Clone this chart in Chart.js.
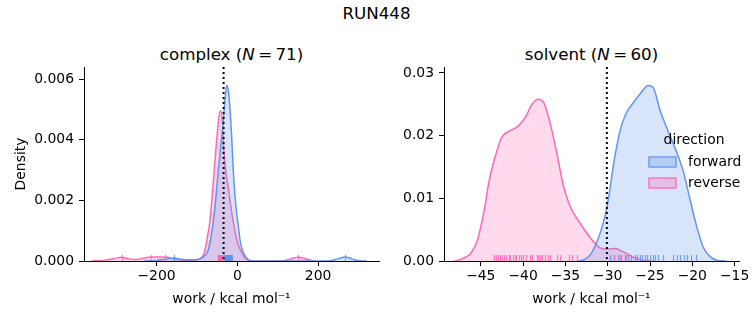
<!DOCTYPE html>
<html>
<head>
<meta charset="utf-8">
<script src="https://cdn.jsdelivr.net/npm/chart.js@4.4.0/dist/chart.umd.min.js"></script>
<style>
  body { margin: 0; background: #fff; }
  #wrap { position: relative; width: 753px; height: 325px; font-family: "DejaVu Sans", sans-serif; color: #000; }
  canvas { position: absolute; top: 0; }
  .ttl { position: absolute; text-align: center; font-size: 16.7px; line-height: 20px; white-space: nowrap; }
</style>
</head>
<body>
<div id="wrap">
  <div class="ttl" style="left:0; width:753px; top:3px;">RUN448</div>
  <div class="ttl" style="left:84px; width:295px; top:44px;">complex (<i>N</i>&#8201;=&#8201;71)</div>
  <div class="ttl" style="left:444px; width:295px; top:44px;">solvent (<i>N</i>&#8201;=&#8201;60)</div>
  <canvas id="complex" width="400" height="325" style="left:0"></canvas>
  <canvas id="solvent" width="353" height="325" style="left:400px"></canvas>
</div>
<script>
// Data

// complex panel, KDE curves
const cxForwardX = [-230, -200, -175, -157, -140, -120, -100, -88, -80, -72, -65, -59, -53, -47, -41, -35, -30, -26, -22, -18, -14, -10, -6, -1.6, 3, 6.7, 12, 19, 27, 40, 200, 230, 248, 258, 267, 276, 288, 303, 320];
const cxForwardY = [0, 0.00002, 0.00007, 0.0001, 0.00006, 0.00004, 0.00005, 0.0001, 0.00018, 0.00036, 0.0008, 0.00135, 0.0021, 0.003, 0.0038, 0.0046, 0.0054, 0.0058, 0.0056, 0.005, 0.0041, 0.003, 0.0022, 0.00157, 0.0011, 0.00069, 0.00038, 0.00018, 0.00005, 0, 0, 0.00001, 0.00007, 0.00011, 0.00013, 0.00011, 0.00005, 0.00001, 0];
const cxReverseX = [-360, -330, -305, -286, -268, -250, -230, -214, -195, -178, -160, -140, -120, -100, -90, -84, -80, -74, -67.5, -62, -57, -53, -49, -45, -41, -37, -34, -28, -22, -15, -10, -3, 3, 10, 17, 27, 40, 110, 125, 140, 151, 162, 177, 190];
const cxReverseY = [0, 0.00002, 0.00008, 0.00012, 0.00007, 0.00005, 0.0001, 0.00013, 0.00013, 0.00013, 0.00007, 0.00003, 0.00002, 0.00004, 0.0001, 0.0002, 0.00036, 0.0008, 0.00135, 0.0022, 0.003, 0.0037, 0.0043, 0.0048, 0.00496, 0.0046, 0.0038, 0.0029, 0.0024, 0.0017, 0.0013, 0.0008, 0.0005, 0.0003, 0.00012, 0.00003, 0, 0, 0.00004, 0.0001, 0.00012, 0.0001, 0.00004, 0];
const cxForwardRug = [-157, -32, -31, -30, -29.5, -29, -28, -27.5, -27, -26.5, -26, -25.5, -25, -24.5, -24, -23, -22.5, -22, -21, -20, -19, -18, -17, -16, -15, -14, 267];
const cxReverseRug = [-286, -214, -178, -48, -47, -46.5, -46, -45, -44.5, -44, -43.5, -43, -42.5, -42, -41.5, -41, -40, -39.5, -39, -38, -37, -36, -35, 151];
const cxVLine = -34;
const cxXTicks = [-200, 0, 200];
const cxYTicks = [0, 0.002, 0.004, 0.006];

// solvent panel, KDE curves
const svForwardX = [-33.5, -32.8, -32, -31.2, -30.5, -30.1, -29.7, -29.3, -28.9, -28.5, -27.8, -27.0, -26.2, -25.2, -24.6, -23.8, -22.8, -21.8, -21.1, -20.3, -19.5, -18.7, -17.9, -17, -16];
const svForwardY = [0, 0.0002, 0.0011, 0.0033, 0.0062, 0.0085, 0.0118, 0.0155, 0.0185, 0.021, 0.0236, 0.0252, 0.0266, 0.028, 0.0276, 0.024, 0.0205, 0.0172, 0.0145, 0.01, 0.0056, 0.0022, 0.0007, 0.0001, 0];
const svReverseX = [-48.2, -47.5, -46.8, -46.2, -45.4, -44.6, -44.0, -43.2, -42.5, -41.5, -40.7, -39.7, -38.9, -38.2, -37.5, -36.7, -36.0, -35.2, -34.4, -33.2, -32.0, -30.9, -30.0, -29.1, -28.2, -27.0, -25.8, -24.8];
const svReverseY = [0, 0.0002, 0.0006, 0.0012, 0.0033, 0.0081, 0.0129, 0.0171, 0.0198, 0.0208, 0.0214, 0.023, 0.0251, 0.0258, 0.0251, 0.0214, 0.0171, 0.0118, 0.0086, 0.0059, 0.0036, 0.0021, 0.0019, 0.002, 0.0015, 0.0006, 0.0001, 0];
const svForwardRug = [-29.7, -29.2, -28.8, -28.4, -28.0, -27.6, -27.2, -26.8, -26.5, -26.2, -25.9, -25.6, -25.3, -25.0, -24.7, -24.4, -24.0, -23.5, -22.3, -21.8, -21.4, -21.0, -20.6, -20.2, -19.6];
const svReverseRug = [-43.4, -43.2, -43.0, -42.7, -42.5, -42.2, -42.0, -41.7, -41.5, -41.2, -41.0, -40.8, -40.5, -40.2, -40.0, -39.6, -39.2, -38.9, -38.4, -38.2, -38.0, -37.8, -37.4, -37.0, -36.8, -36.0, -35.6, -34.6, -34.2, -33.6, -29.2, -28.5, -27.8];
const svVLine = -30.1;
const svXTicks = [-45, -40, -35, -30, -25, -20, -15];
const svYTicks = [0, 0.01, 0.02, 0.03];

const BLUE = '#6495ed';
const PINK = '#ff69b4';
const FONT = 'DejaVu Sans';

Chart.defaults.font.family = FONT;
Chart.defaults.font.size = 13.9;
Chart.defaults.color = '#000';

function toPoints(xs, ys) {
    return xs.map((x, i) => ({ x: x, y: ys[i] }));
}

function fmtMinus(v) {
    return v < 0 ? '\u2212' + Math.abs(v) : String(v);
}

// rug ticks, dotted reference line and the legend
const panelExtras = {
    id: 'panelExtras',
    afterDatasetsDraw(chart, args, opts) {
        const ctx = chart.ctx;
        const a = chart.chartArea;
        const x = chart.scales.x;
        ctx.save();
        opts.rugs.forEach(r => {
            ctx.strokeStyle = r.color;
            ctx.globalAlpha = 0.85;
            ctx.lineWidth = 1.2;
            r.values.forEach(v => {
                const px = Math.round(x.getPixelForValue(v)) + 0.5;
                ctx.beginPath();
                ctx.moveTo(px, a.bottom);
                ctx.lineTo(px, a.bottom - 6);
                ctx.stroke();
            });
        });
        ctx.globalAlpha = 1;

        const vx = x.getPixelForValue(opts.vline);
        ctx.strokeStyle = '#000';
        ctx.lineWidth = 2;
        ctx.setLineDash([2, 3]);
        ctx.beginPath();
        ctx.moveTo(vx, a.top);
        ctx.lineTo(vx, a.bottom);
        ctx.stroke();
        ctx.setLineDash([]);

        if (opts.legend) {
            ctx.font = '13.9px "' + FONT + '"';
            ctx.fillStyle = '#000';
            ctx.textBaseline = 'middle';
            ctx.textAlign = 'center';
            ctx.fillText('direction', a.right - 45, a.top + 73);
            const items = [
                { text: 'forward', color: BLUE, fill: 'rgba(100,149,237,0.3)' },
                { text: 'reverse', color: PINK, fill: 'rgba(255,105,180,0.3)' }
            ];
            items.forEach((it, i) => {
                const by = a.top + 90 + i * 21;
                ctx.fillStyle = it.fill;
                ctx.fillRect(a.right - 90, by, 27, 10);
                ctx.strokeStyle = it.color;
                ctx.lineWidth = 1.3;
                ctx.strokeRect(a.right - 90, by, 27, 10);
                ctx.fillStyle = '#000';
                ctx.textAlign = 'left';
                ctx.fillText(it.text, a.right - 51, by + 5);
            });
        }
        ctx.restore();
    }
};

function makePanel(id, cfg) {
    const ctx = document.getElementById(id).getContext('2d');
    return new Chart(ctx, {
        type: 'line',
        data: {
            datasets: [
                {
                    label: 'forward',
                    data: toPoints(cfg.fx, cfg.fy),
                    borderColor: BLUE,
                    backgroundColor: 'rgba(100,149,237,0.25)',
                    fill: 'origin',
                    borderWidth: 1.5,
                    pointRadius: 0,
                    cubicInterpolationMode: 'monotone'
                },
                {
                    label: 'reverse',
                    data: toPoints(cfg.rx, cfg.ry),
                    borderColor: PINK,
                    backgroundColor: 'rgba(255,105,180,0.25)',
                    fill: 'origin',
                    borderWidth: 1.5,
                    pointRadius: 0,
                    cubicInterpolationMode: 'monotone'
                }
            ]
        },
        options: {
            responsive: false,
            animation: false,
            devicePixelRatio: 1,
            layout: { padding: { left: 0, right: cfg.padRight, top: 67, bottom: 0 } },
            plugins: {
                legend: { display: false },
                tooltip: { enabled: false },
                panelExtras: {
                    vline: cfg.vline,
                    legend: cfg.legend,
                    rugs: [
                        { values: cfg.fRug, color: BLUE },
                        { values: cfg.rRug, color: PINK }
                    ]
                }
            },
            scales: {
                x: {
                    type: 'linear',
                    min: cfg.xMin,
                    max: cfg.xMax,
                    afterBuildTicks: s => { s.ticks = cfg.xTicks.map(v => ({ value: v })); },
                    afterFit: s => { s.height = 64; },
                    ticks: { callback: fmtMinus, padding: 2, maxRotation: 0, autoSkip: false },
                    grid: { drawOnChartArea: false, tickLength: 5, tickColor: '#000', tickWidth: 1 },
                    border: { color: '#000', width: 1 },
                    title: { display: true, text: 'work / kcal mol\u207B\u00B9', padding: { top: 0, bottom: 17 } }
                },
                y: {
                    min: 0,
                    max: cfg.yMax,
                    afterBuildTicks: s => { s.ticks = cfg.yTicks.map(v => ({ value: v })); },
                    afterFit: s => { s.width = cfg.yWidth; },
                    ticks: { callback: v => v.toFixed(cfg.yDigits), padding: 5 },
                    grid: { drawOnChartArea: false, tickLength: 5, tickColor: '#000', tickWidth: 1 },
                    border: { color: '#000', width: 1 },
                    title: { display: cfg.yTitle, text: 'Density', padding: { top: 13, bottom: 0 } }
                }
            }
        },
        plugins: [panelExtras]
    });
}

makePanel('complex', {
    fx: cxForwardX, fy: cxForwardY, rx: cxReverseX, ry: cxReverseY,
    fRug: cxForwardRug, rRug: cxReverseRug, vline: cxVLine,
    xMin: -379.5, xMax: 350.7, yMax: 0.0064,
    xTicks: cxXTicks, yTicks: cxYTicks, yDigits: 3,
    yWidth: 84, padRight: 21, yTitle: true, legend: false
});

makePanel('solvent', {
    fx: svForwardX, fy: svForwardY, rx: svReverseX, ry: svReverseY,
    fRug: svForwardRug, rRug: svReverseRug, vline: svVLine,
    xMin: -49.35, xMax: -14.48, yMax: 0.03094,
    xTicks: svXTicks, yTicks: svYTicks, yDigits: 2,
    yWidth: 44, padRight: 14, yTitle: false, legend: true
});
</script>
</body>
</html>
